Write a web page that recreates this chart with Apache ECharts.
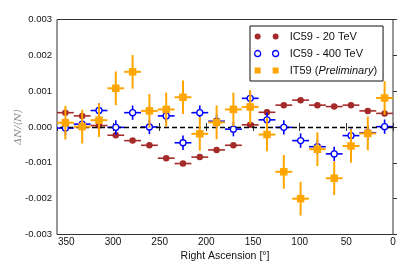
<!DOCTYPE html>
<html>
<head>
<meta charset="utf-8">
<script src="https://cdn.jsdelivr.net/npm/echarts@6/dist/echarts.min.js"></script>
<style>html,body{margin:0;padding:0;background:#fff}#c{width:415px;height:264px}</style>
</head>
<body>
<div id="c"></div>
<script>
// Right ascension bin centres (deg) and half bin width
var raBins = [351,333,315,297,279,261,243,225,207,189,171,153,135,117,99,81,63,45,27,9];
var raHalfWidth = 9;
// IC59 - 20 TeV
var ic20 = [0.00040,0.00031,0.00004,-0.00023,-0.00038,-0.00051,-0.00087,-0.00102,-0.00084,-0.00064,-0.00051,0.00006,0.00041,0.00061,0.00075,0.00061,0.00057,0.00061,0.00045,0.00038];
var ic20Err = 0.00003;
// IC59 - 400 TeV
var ic400 = [-0.00003,0.00008,0.00046,-0.00001,0.00040,0.00000,0.00031,-0.00044,0.00040,0.00016,-0.00006,0.00080,0.00020,-0.00001,-0.00038,-0.00055,-0.00075,-0.00024,-0.00016,0.00001];
var ic400Err = 0.00020;
// IT59 (Preliminary)
var it59 = [0.00012,0.00001,0.00019,0.00108,0.00154,0.00045,0.00049,0.00083,-0.00019,0.00013,0.00049,0.00056,-0.00021,-0.00125,-0.00200,-0.00062,-0.00143,-0.00053,-0.00018,0.00081];
var it59Err = 0.00047;
// axis ticks
var xTicks = {min:0, max:360, step:50};
var yTicks = {min:-0.003, max:0.003, step:0.001};

var RED = '#a52a2a', BLUE = '#0000ff', ORANGE = '#ffa500';

function errData(vals, err) {
  return raBins.map(function (x, i) { return [x, vals[i], x - raHalfWidth, x + raHalfWidth, vals[i] - err, vals[i] + err]; });
}
function errSeries(name, vals, err, color, lw, z) {
  return {
    name: name, type: 'custom', z: z, silent: true,
    data: errData(vals, err),
    encode: {x: 0, y: 1},
    renderItem: function (params, api) {
      var c = api.coord([api.value(0), api.value(1)]);
      var xl = api.coord([api.value(2), api.value(1)]);
      var xr = api.coord([api.value(3), api.value(1)]);
      var yl = api.coord([api.value(0), api.value(4)]);
      var yh = api.coord([api.value(0), api.value(5)]);
      var st = {stroke: color, lineWidth: lw};
      return {type: 'group', children: [
        {type: 'line', shape: {x1: xl[0], y1: c[1], x2: xr[0], y2: c[1]}, style: st},
        {type: 'line', shape: {x1: c[0], y1: yl[1], x2: c[0], y2: yh[1]}, style: st}
      ]};
    }
  };
}
function pts(vals) { return raBins.map(function (x, i) { return [x, vals[i]]; }); }

var twoCircles = 'path://M0,5a5,5 0 1,0 10,0a5,5 0 1,0 -10,0zM30,5a5,5 0 1,0 10,0a5,5 0 1,0 -10,0z';
var twoSquares = 'path://M0,0h10v10h-10zM30,0h10v10h-10z';

var chart = echarts.init(document.getElementById('c'), null, {renderer: 'canvas'});
var labelFont = {fontFamily: 'Liberation Sans', fontSize: 10, color: '#111'};
chart.setOption({
  animation: false,
  grid: {left: 57, right: 22, top: 19.5, bottom: 29.5, containLabel: false, outerBoundsMode: 'none',
    show: true, borderColor: '#333', borderWidth: 1, backgroundColor: 'transparent'},
  xAxis: [{
    type: 'value', inverse: true, min: xTicks.min, max: xTicks.max, interval: xTicks.step,
    name: 'Right Ascension [°]', nameLocation: 'middle', nameGap: 16, nameMoveOverlap: false,
    nameTextStyle: {fontFamily: 'Liberation Sans', fontSize: 10.5, color: '#111'},
    axisLine: {show: false}, splitLine: {show: false},
    axisTick: {inside: true, length: 4, lineStyle: {color: '#333'}},
    axisLabel: Object.assign({margin: 3, showMaxLabel: false}, labelFont)
  }, {
    type: 'value', inverse: true, position: 'top', min: xTicks.min, max: xTicks.max, interval: xTicks.step,
    axisLine: {show: false}, splitLine: {show: false},
    axisTick: {inside: true, length: 4, lineStyle: {color: '#333'}},
    axisLabel: {show: false}
  }],
  yAxis: [{
    type: 'value', min: yTicks.min, max: yTicks.max, interval: yTicks.step,
    name: 'ΔN/⟨N⟩', nameLocation: 'middle', nameGap: 34, nameRotate: 90, nameMoveOverlap: false,
    nameTextStyle: {fontFamily: 'DejaVu Serif', fontStyle: 'italic', fontSize: 10, color: '#888'},
    axisLine: {show: false}, splitLine: {show: false},
    axisTick: {inside: true, length: 4, lineStyle: {color: '#333'}},
    axisLabel: Object.assign({margin: 5, formatter: function (v) { var r = Math.round(v * 1000) / 1000; return (r === 0 ? 0 : r).toFixed(3); }}, labelFont, {fontSize: 9.5})
  }, {
    type: 'value', position: 'right', min: yTicks.min, max: yTicks.max, interval: yTicks.step,
    axisLine: {show: false}, splitLine: {show: false},
    axisTick: {inside: false, length: 4, lineStyle: {color: '#333'}},
    axisLabel: {show: false}
  }],
  legend: {
    orient: 'vertical', left: 250, top: 26, width: 137,
    backgroundColor: '#fff', borderColor: '#111', borderWidth: 1,
    padding: [5, 6, 5, 4], itemGap: 6, itemWidth: 24, itemHeight: 6,
    textStyle: {fontFamily: 'Liberation Sans', fontSize: 11, color: '#111', padding: [0, 0, 0, 6],
      rich: {i: {fontFamily: 'Liberation Sans', fontSize: 11, fontStyle: 'italic', color: '#111'}}},
    formatter: function (n) { return n === 'IT59 (Preliminary)' ? 'IT59 ({i|Preliminary})' : n; },
    data: [
      {name: 'IC59 - 20 TeV', icon: twoCircles, itemStyle: {color: RED, borderWidth: 0}},
      {name: 'IC59 - 400 TeV', icon: twoCircles, itemStyle: {color: '#fff', borderColor: BLUE, borderWidth: 1.3}},
      {name: 'IT59 (Preliminary)', icon: twoSquares, itemStyle: {color: ORANGE, borderWidth: 0}}
    ]
  },
  series: [
    {
      name: 'zero', type: 'line', data: [], z: 1, silent: true,
      markLine: {symbol: 'none', silent: true, label: {show: false},
        lineStyle: {color: '#000', type: [5, 3], width: 1.3}, data: [{yAxis: 0}]}
    },
    errSeries('e20', ic20, ic20Err, RED, 1.6, 2),
    {name: 'IC59 - 20 TeV', type: 'scatter', z: 3, symbol: 'circle', symbolSize: 6.5,
      itemStyle: {color: RED, opacity: 1}, data: pts(ic20)},
    errSeries('e400', ic400, ic400Err, BLUE, 1.6, 4),
    {name: 'IC59 - 400 TeV', type: 'scatter', z: 5, symbol: 'circle', symbolSize: 6,
      itemStyle: {color: '#fff', borderColor: BLUE, borderWidth: 1.3, opacity: 1}, data: pts(ic400)},
    errSeries('eIT', it59, it59Err, ORANGE, 2, 6),
    {name: 'IT59 (Preliminary)', type: 'scatter', z: 7, symbol: 'rect', symbolSize: 7.5,
      itemStyle: {color: ORANGE, opacity: 1}, data: pts(it59)}
  ]
});
</script>
</body>
</html>
